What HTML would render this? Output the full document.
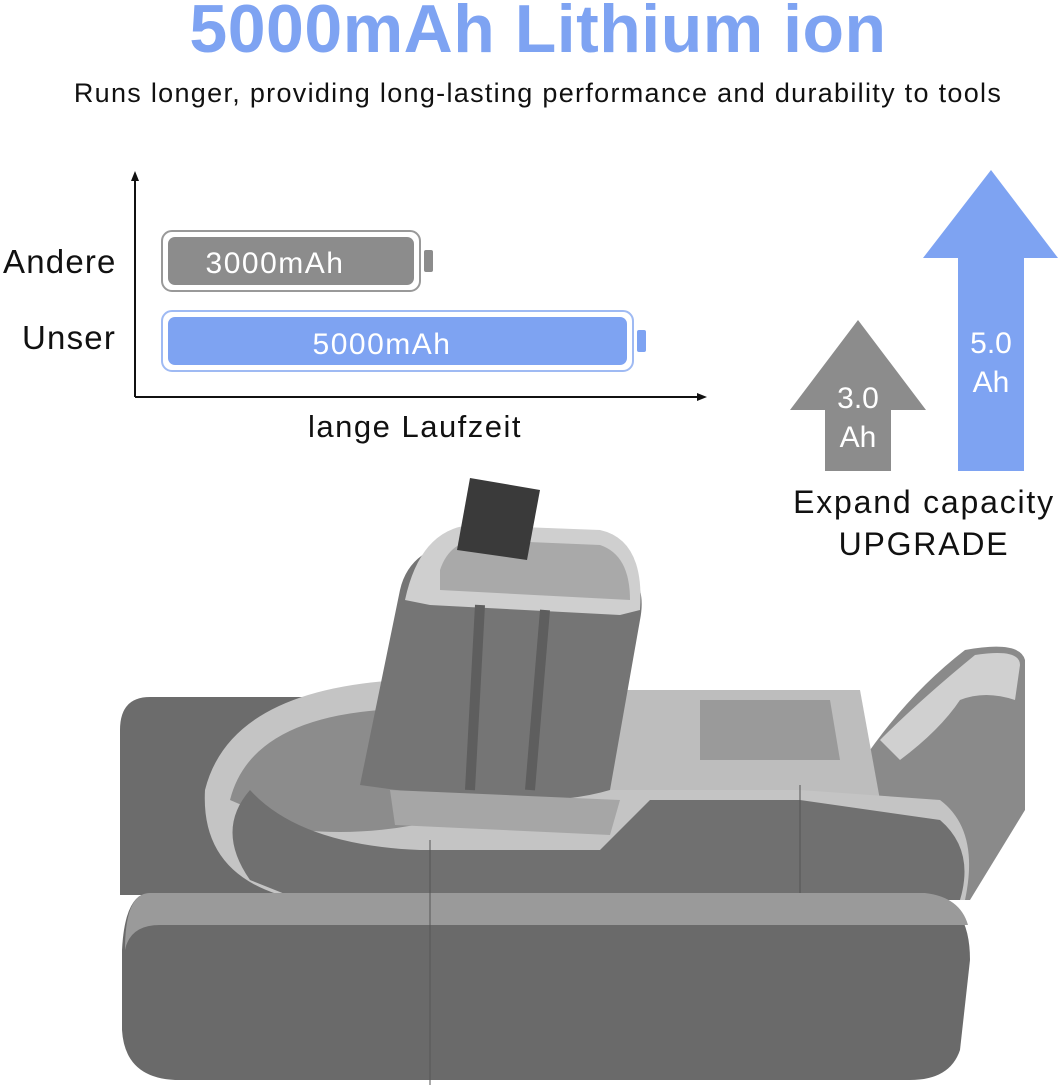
<!DOCTYPE html>
<html><head><meta charset="utf-8"><style>
html,body{margin:0;padding:0;background:#fff;}
body{width:1061px;height:1091px;position:relative;overflow:hidden;font-family:"Liberation Sans",sans-serif;}
.t{position:absolute;white-space:nowrap;}
</style></head><body>
<div class="t" style="left:0;width:1076px;text-align:center;top:-10px;font-size:68px;font-weight:bold;color:#7ea3f2;letter-spacing:0.5px;">5000mAh Lithium ion</div>
<div class="t" style="left:0;width:1076px;text-align:center;top:78px;font-size:27px;color:#111;letter-spacing:1.3px;">Runs longer, providing long-lasting performance and durability to tools</div>
<svg width="1061" height="1091" style="position:absolute;left:0;top:0" xmlns="http://www.w3.org/2000/svg">
<line x1="135" y1="397" x2="135" y2="178" stroke="#111" stroke-width="2"/>
<polygon points="135,171 131,181 139,181" fill="#111"/>
<line x1="135" y1="397" x2="700" y2="397" stroke="#111" stroke-width="2"/>
<polygon points="707,397 697,393 697,401" fill="#111"/>
<rect x="162" y="231" width="258" height="60" rx="10" fill="#fff" stroke="#999" stroke-width="2"/>
<rect x="168" y="237" width="246" height="48" rx="7" fill="#8c8c8c"/>
<rect x="424" y="250" width="9" height="22" rx="2" fill="#8c8c8c"/>
<rect x="162" y="311" width="471" height="60" rx="10" fill="#fff" stroke="#9fbaf3" stroke-width="2"/>
<rect x="168" y="317" width="459" height="48" rx="7" fill="#7ea3f2"/>
<rect x="637" y="330" width="9" height="22" rx="2" fill="#7ea3f2"/>
<text x="275" y="273" font-size="30" fill="#fff" text-anchor="middle" letter-spacing="1.5" font-family="Liberation Sans">3000mAh</text>
<text x="382" y="354" font-size="30" fill="#fff" text-anchor="middle" letter-spacing="1.5" font-family="Liberation Sans">5000mAh</text>
<polygon points="858,320 926,410 891,410 891,471 825,471 825,410 790,410" fill="#8c8c8c"/>
<polygon points="991,170 1058,258 1024,258 1024,471 958,471 958,258 923,258" fill="#7ea3f2"/>
<text x="858" y="408" font-size="30" fill="#fff" text-anchor="middle" font-family="Liberation Sans">3.0</text>
<text x="858" y="447" font-size="30" fill="#fff" text-anchor="middle" font-family="Liberation Sans">Ah</text>
<text x="991" y="353" font-size="30" fill="#fff" text-anchor="middle" font-family="Liberation Sans">5.0</text>
<text x="991" y="392" font-size="30" fill="#fff" text-anchor="middle" font-family="Liberation Sans">Ah</text>
<path d="M965,650 Q1020,640 1025,660 L1025,810 L970,900 L900,900 L850,780 Q900,700 965,650Z" fill="#8a8a8a"/>
<path d="M975,655 Q1020,648 1020,665 L1015,700 Q985,690 960,700 Q940,730 900,760 L880,740 Q920,700 975,655Z" fill="#d0d0d0"/>
<path d="M620,690 L860,690 L880,800 L600,800Z" fill="#bdbdbd"/>
<path d="M700,700 L830,700 L840,760 L700,760Z" fill="#9a9a9a"/>
<path d="M150,697 L420,697 L420,895 L120,895 L120,730 Q120,697 150,697Z" fill="#6c6c6c"/>
<path d="M205,790 Q230,690 400,680 L520,690 L560,790 Q680,790 800,790 L940,800 Q980,830 965,900 L300,900 Q200,880 205,790Z" fill="#c4c4c4"/>
<path d="M230,800 Q250,720 380,710 L480,720 L500,800 Q400,840 300,830Z" fill="#8c8c8c"/>
<path d="M250,880 Q215,830 250,790 Q300,845 420,850 L600,850 L650,800 L800,800 L940,820 Q975,850 960,900 L300,900Z" fill="#707070"/>
<path d="M150,893 L925,893 Q970,900 970,960 L960,1050 Q950,1080 910,1080 L180,1080 Q125,1080 122,1030 L122,950 Q125,893 150,893Z" fill="#6a6a6a"/>
<path d="M150,893 L925,893 Q960,897 968,925 L160,925 Q130,925 125,950 Q125,893 150,893Z" fill="#9a9a9a"/>
<line x1="430" y1="840" x2="430" y2="1085" stroke="#555" stroke-width="1"/>
<line x1="800" y1="785" x2="800" y2="893" stroke="#555" stroke-width="1"/>
<path d="M360,785 L400,590 Q410,545 470,540 L600,550 Q650,570 640,620 L610,790 Q560,805 470,800 Z" fill="#757575"/>
<path d="M405,600 Q420,530 470,525 L600,530 Q645,540 640,610 L620,615 L430,605Z" fill="#cfcfcf"/>
<path d="M440,570 Q450,540 480,540 L600,545 Q630,555 630,600 L440,590Z" fill="#a9a9a9"/>
<path d="M470,478 L540,490 L527,560 L457,550Z" fill="#3a3a3a"/>
<path d="M480,605 L470,790 M545,610 L530,790" stroke="#5e5e5e" stroke-width="10"/>
<path d="M390,790 L620,800 L610,835 L395,825Z" fill="#a6a6a6"/>
</svg>
<div class="t" style="left:3px;top:243px;font-size:33px;color:#111;letter-spacing:1.2px;">Andere</div>
<div class="t" style="left:22px;top:319px;font-size:33px;color:#111;letter-spacing:1.2px;">Unser</div>
<div class="t" style="left:308px;top:409px;font-size:31px;color:#111;letter-spacing:1.5px;">lange Laufzeit</div>
<div class="t" style="left:784px;width:280px;text-align:center;top:484px;font-size:32px;color:#111;letter-spacing:1.8px;">Expand capacity</div>
<div class="t" style="left:784px;width:280px;text-align:center;top:526px;font-size:32px;color:#111;letter-spacing:1.8px;">UPGRADE</div>
</body></html>
